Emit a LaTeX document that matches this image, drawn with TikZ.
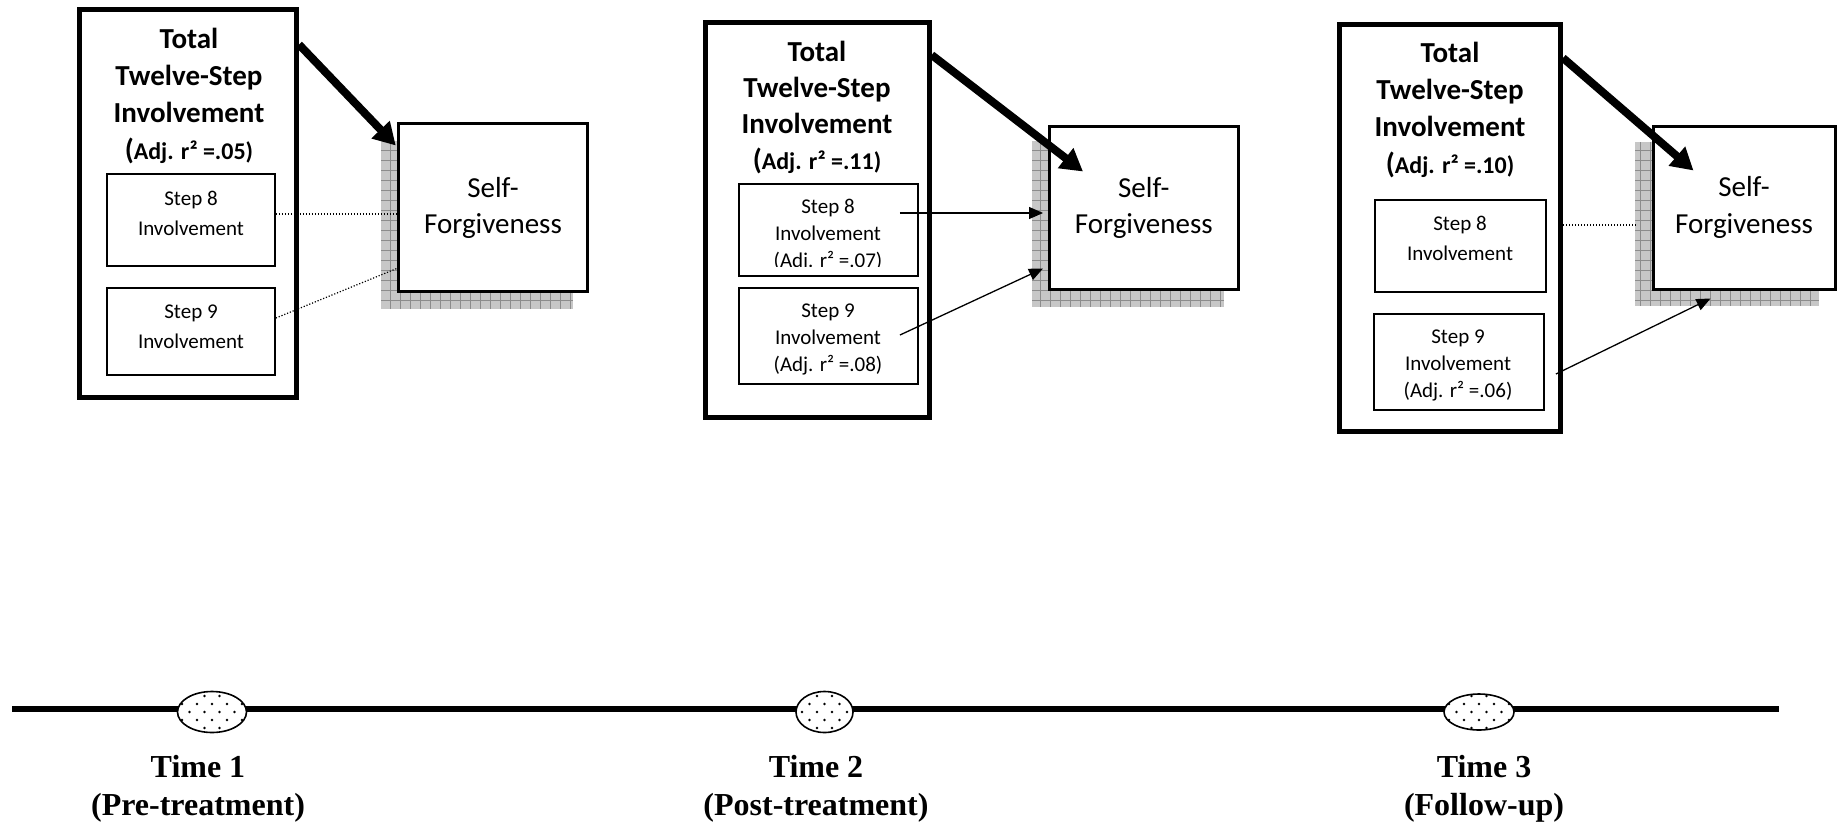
\documentclass[tikz,border=0pt]{standalone}
\usepackage{fontspec}
\setmainfont{Carlito}
\newfontfamily\timesfont{Liberation Serif}
\usetikzlibrary{arrows.meta,shapes.geometric,calc}
\newcommand{\hdrsize}[2]{\fontsize{#1}{#2}\selectfont}
\begin{document}
\begin{tikzpicture}[x=1pt,y=-1pt,
  outerbox/.style={draw,line width=5pt,inner sep=0pt},
  stepbox/.style={draw,line width=1.8pt,inner sep=0pt},
  sfbox/.style={draw,line width=3pt,inner sep=0pt,fill=white,align=center},
  hdr/.style={align=center,font=\bfseries},
  steptxt/.style={align=center,inner sep=0pt},
  bigarrow/.style={line width=8pt,-{Triangle[length=22pt,width=24pt]}},
  thinarrow/.style={line width=1.3pt,-{Triangle[length=14pt,width=12pt]}},
  dotline/.style={line width=1.2pt,dash pattern=on 1.2pt off 1.8pt},
  shadowfill/.style={fill=black!22},
  shadowgrid/.style={draw=black!45,line width=0.8pt},
  tickmark/.style={ellipse,draw,line width=1.6pt,fill=white,inner sep=0pt,
    path picture={\foreach \r in {0,...,6}{\foreach \c in {0,...,6}{
      \fill[black] ($(path picture bounding box.center)+({\c*15-45+7.5*mod(\r,2)},{(\r-3)*8})$) circle[radius=1.3];}}}},
  timetxt/.style={align=center,font=\timesfont\bfseries\fontsize{32}{38}\selectfont},
  timeline/.style={line width=6pt}
]
\useasboundingbox (0,0) rectangle (1843,825);

% ---------- shadows ----------
\begin{scope}
  \clip (381,141) rectangle (573,309);
  \fill[shadowfill] (381,141) rectangle (573,309);
  \draw[shadowgrid] (381,141) grid[step=10pt] (573,309);
\end{scope}
\begin{scope}
  \clip (1032,141) rectangle (1224,307);
  \fill[shadowfill] (1032,141) rectangle (1224,307);
  \draw[shadowgrid] (1032,141) grid[step=10pt] (1224,307);
\end{scope}
\begin{scope}
  \clip (1635,142) rectangle (1819,306);
  \fill[shadowfill] (1635,142) rectangle (1819,306);
  \draw[shadowgrid] (1635,142) grid[step=10pt] (1819,306);
\end{scope}

% ---------- Panel 1 ----------
\node[outerbox,minimum width=217,minimum height=388] (outer1) at (188,203.5) {};
\node[hdr,font=\bfseries\hdrsize{29}{37}] (hdr1) at (189,96) {Total\\Twelve-Step\\Involvement\\{\hdrsize{29}{37}(}{\hdrsize{24}{37}Adj. r² =.05)}};
\node[stepbox,minimum width=168,minimum height=92] (s8a) at (191,220) {};
\node[steptxt,font=\hdrsize{21}{30}] (t8a) at (191,213) {Step 8\\Involvement};
\node[stepbox,minimum width=168,minimum height=87] (s9a) at (191,331.5) {};
\node[steptxt,font=\hdrsize{21}{30}] (t9a) at (191,327) {Step 9\\Involvement};
\node[sfbox,minimum width=189.5,minimum height=168,font=\hdrsize{29}{36}] (sf1) at (493,207.5) {Self-\\Forgiveness};
\draw[bigarrow] ($(outer1.north east)+(0,37.5)$) -- ($(sf1.north west)+(-1,23.5)$);
\draw[dotline] ($(s8a.east)+(0,-6)$) -- ($(sf1.west)+(0,6.5)$);
\draw[dotline] ($(s9a.east)+(0,-13.5)$) -- ($(sf1.south west)+(0,-24.5)$);

% ---------- Panel 2 ----------
\node[outerbox,minimum width=224,minimum height=395] (outer2) at (817.2,220) {};
\node[hdr,font=\bfseries\hdrsize{29}{36}] (hdr2) at (817,108) {Total\\Twelve-Step\\Involvement\\{\hdrsize{29}{36}(}{\hdrsize{24}{36}Adj. r² =.11)}};
\node[stepbox,minimum width=178.7,minimum height=92] (s8b) at (828.7,230) {};
\begin{scope}
  \clip (739,184) rectangle (918,266);
  \node[steptxt,font=\hdrsize{21}{27}] (t8b) at (828,235) {Step 8\\Involvement\\(Adj. r² =.07)};
\end{scope}
\node[stepbox,minimum width=178.7,minimum height=96] (s9b) at (828.7,336) {};
\node[steptxt,font=\hdrsize{21}{27}] (t9b) at (828,339.5) {Step 9\\Involvement\\(Adj. r² =.08)};
\node[sfbox,minimum width=188.6,minimum height=163,font=\hdrsize{29}{36}] (sf2) at (1143.8,207.5) {Self-\\Forgiveness};
\draw[bigarrow] ($(outer2.north east)+(0,35)$) -- ($(sf2.north west)+(35,47)$);
\draw[thinarrow] ($(s8b.east)+(-19,-17)$) -- ($(sf2.west)+(-5,5.5)$);
\draw[thinarrow] ($(s9b.east)+(-19,-1)$) -- ($(sf2.south west)+(-5,-22)$);

% ---------- Panel 3 ----------
\node[outerbox,minimum width=221,minimum height=407] (outer3) at (1450,228) {};
\node[hdr,font=\bfseries\hdrsize{29}{37}] (hdr3) at (1450,110) {Total\\Twelve-Step\\Involvement\\{\hdrsize{29}{37}(}{\hdrsize{24}{37}Adj. r² =.10)}};
\node[stepbox,minimum width=171,minimum height=92] (s8c) at (1460.5,246) {};
\node[steptxt,font=\hdrsize{21}{30}] (t8c) at (1460,238) {Step 8\\Involvement};
\node[stepbox,minimum width=170,minimum height=96] (s9c) at (1459,362) {};
\node[steptxt,font=\hdrsize{21}{27}] (t9c) at (1458,365) {Step 9\\Involvement\\(Adj. r² =.06)};
\node[sfbox,minimum width=182,minimum height=163,font=\hdrsize{29}{37}] (sf3) at (1744,207.5) {Self-\\Forgiveness};
\draw[bigarrow] ($(outer3.north east)+(0,36)$) -- ($(sf3.north west)+(42,46)$);
\draw[dotline] ($(outer3.east)+(0,-3)$) -- ($(sf3.west)+(-16,17.5)$);
\draw[thinarrow] ($(s9c.east)+(11,12)$) -- ($(sf3.south west)+(59,8)$);

% ---------- Timeline ----------
\coordinate (tl0) at (12,709);
\coordinate (tl1) at (1779,709);
\draw[timeline] (tl0) -- (tl1);
\node[tickmark,minimum width=69,minimum height=41] (e1) at (212,712) {};
\node[tickmark,minimum width=57,minimum height=41] (e2) at (824.5,712) {};
\node[tickmark,minimum width=70,minimum height=36] (e3) at (1479,712) {};
\node[timetxt] (time1) at (198,789) {Time 1\\(Pre-treatment)};
\node[timetxt] (time2) at (816,789) {Time 2\\(Post-treatment)};
\node[timetxt] (time3) at (1484,789) {Time 3\\(Follow-up)};
\end{tikzpicture}
\end{document}
